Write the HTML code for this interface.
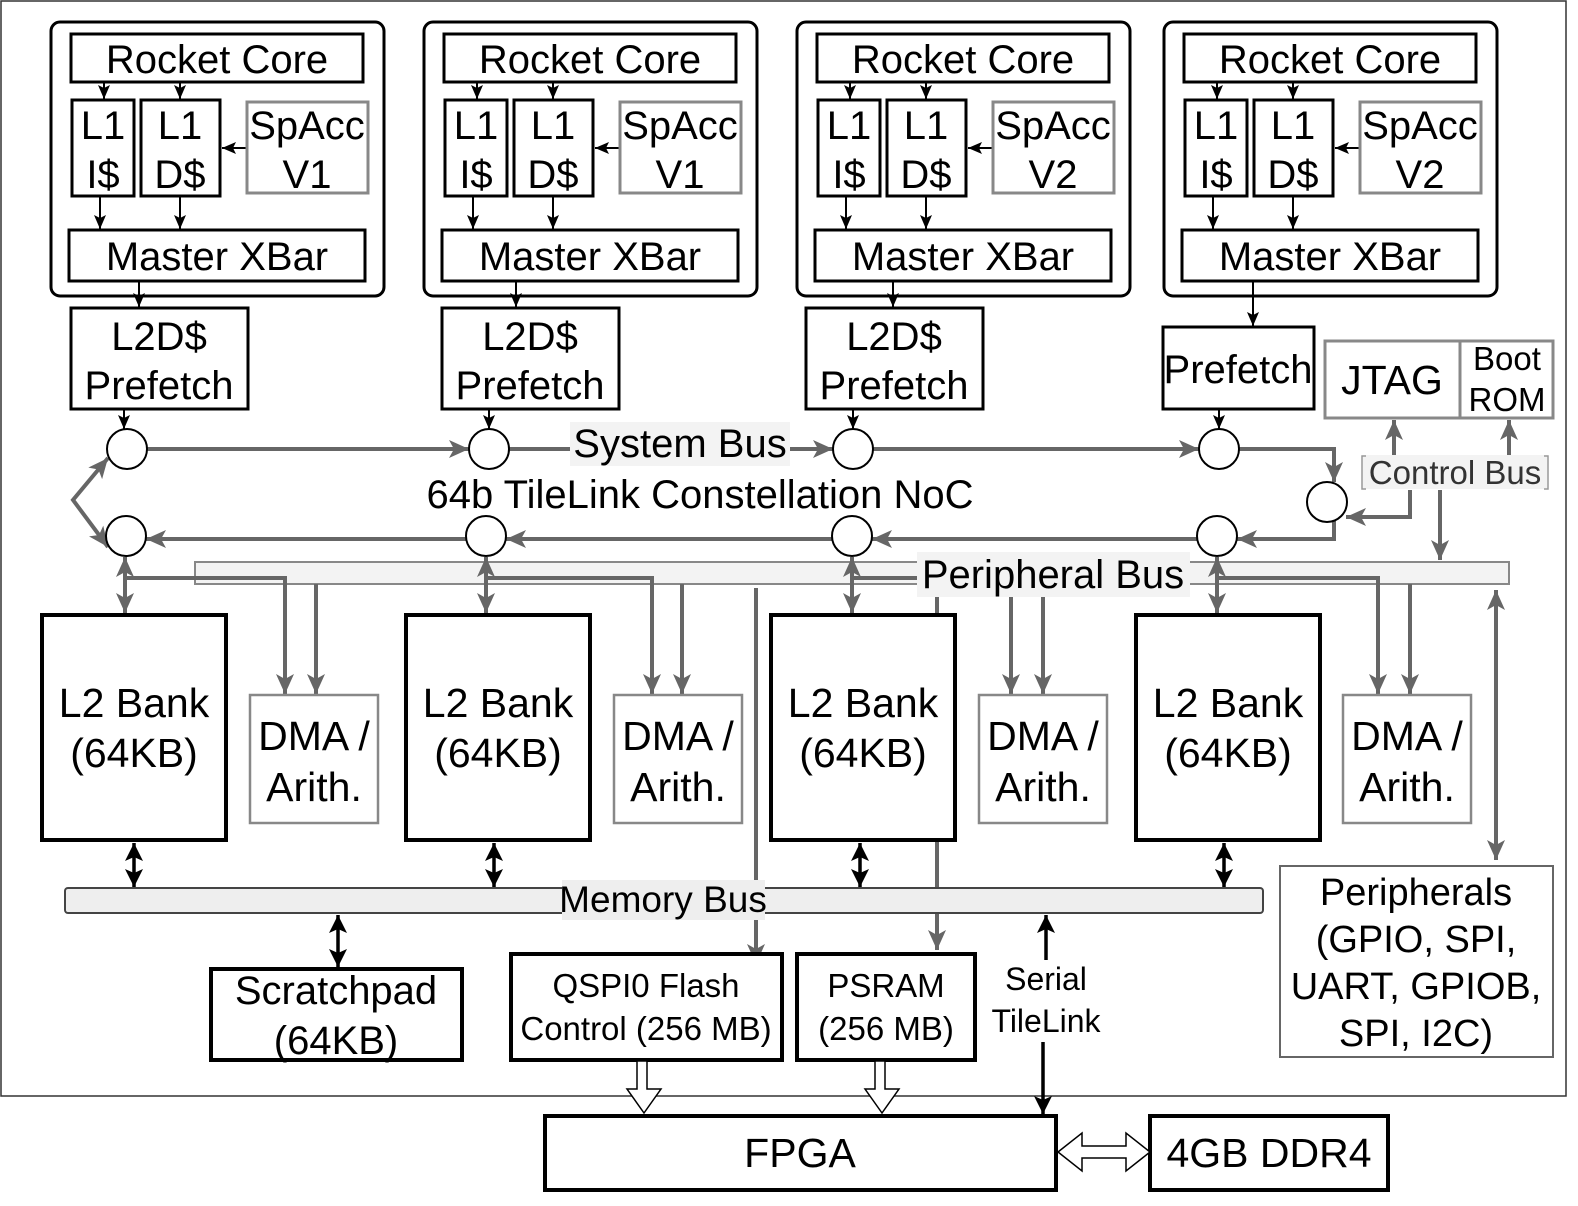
<!DOCTYPE html>
<html><head><meta charset="utf-8"><style>
html,body{margin:0;padding:0;background:#fff}
svg{display:block}
text{font-family:"Liberation Sans",sans-serif;fill:#000;text-anchor:middle}
</style></head><body>
<svg width="1578" height="1206" viewBox="0 0 1578 1206" xmlns="http://www.w3.org/2000/svg">
<defs>
<marker id="ab" viewBox="0 0 14 12" refX="14" refY="6" markerWidth="14" markerHeight="12" orient="auto-start-reverse" markerUnits="userSpaceOnUse"><path d="M0,0 L14,6 L0,12 L3,6 z" fill="#000"/></marker>
<marker id="abl" viewBox="0 0 18 18" refX="18" refY="9" markerWidth="18" markerHeight="18" orient="auto-start-reverse" markerUnits="userSpaceOnUse"><path d="M0,0 L18,9 L0,18 L4,9 z" fill="#000"/></marker>
<marker id="ag" viewBox="0 0 20 18" refX="20" refY="9" markerWidth="20" markerHeight="18" orient="auto-start-reverse" markerUnits="userSpaceOnUse"><path d="M0,0 L20,9 L0,18 L5,9 z" fill="#666"/></marker>
<g id="tile">
<rect x="51" y="22" width="333" height="274" rx="9" fill="none" stroke="#000" stroke-width="3"/>
<rect x="71" y="34" width="292" height="48" fill="#fff" stroke="#000" stroke-width="3"/>
<text x="217" y="73" font-size="40">Rocket Core</text>
<rect x="72" y="100" width="62" height="96" fill="#fff" stroke="#000" stroke-width="3"/>
<text x="103" y="139" font-size="40">L1</text><text x="103" y="188" font-size="40">I$</text>
<rect x="141" y="100" width="79" height="96" fill="#fff" stroke="#000" stroke-width="3"/>
<text x="180" y="139" font-size="40">L1</text><text x="180" y="188" font-size="40">D$</text>
<rect x="69" y="230" width="296" height="51" fill="#fff" stroke="#000" stroke-width="3"/>
<text x="217" y="270" font-size="40">Master XBar</text>
<line x1="104" y1="82" x2="104" y2="99" stroke="#000" stroke-width="2" marker-end="url(#ab)"/>
<line x1="180" y1="82" x2="180" y2="99" stroke="#000" stroke-width="2" marker-end="url(#ab)"/>
<line x1="100" y1="196" x2="100" y2="229" stroke="#000" stroke-width="2" marker-end="url(#ab)"/>
<line x1="180" y1="196" x2="180" y2="229" stroke="#000" stroke-width="2" marker-end="url(#ab)"/>
<line x1="247" y1="148" x2="222" y2="148" stroke="#000" stroke-width="2" marker-end="url(#ab)"/>
<rect x="247" y="102" width="121" height="91" fill="#fff" stroke="#888" stroke-width="3"/>
</g>
</defs>
<rect x="1" y="1" width="1565" height="1095" fill="none" stroke="#333" stroke-width="1.5"/>

<use href="#tile"/>
<use href="#tile" transform="translate(373,0)"/>
<use href="#tile" transform="translate(746,0)"/>
<use href="#tile" transform="translate(1113,0)"/>
<g font-size="40">
<text x="307" y="139">SpAcc</text><text x="307" y="188">V1</text>
<text x="680" y="139">SpAcc</text><text x="680" y="188">V1</text>
<text x="1053" y="139">SpAcc</text><text x="1053" y="188">V2</text>
<text x="1420" y="139">SpAcc</text><text x="1420" y="188">V2</text>
</g>

<g stroke="#000" stroke-width="3" fill="#fff">
<rect x="71" y="308" width="177" height="101"/>
<rect x="442" y="308" width="177" height="101"/>
<rect x="806" y="308" width="177" height="101"/>
<rect x="1163" y="327" width="151" height="82"/>
</g>
<g font-size="40">
<text x="159" y="350">L2D$</text><text x="159" y="399">Prefetch</text>
<text x="530" y="350">L2D$</text><text x="530" y="399">Prefetch</text>
<text x="894" y="350">L2D$</text><text x="894" y="399">Prefetch</text>
<text x="1238" y="383">Prefetch</text>
</g>
<g stroke="#000" stroke-width="2">
<line x1="139" y1="281" x2="139" y2="307" marker-end="url(#ab)"/>
<line x1="516" y1="281" x2="516" y2="307" marker-end="url(#ab)"/>
<line x1="893" y1="281" x2="893" y2="307" marker-end="url(#ab)"/>
<line x1="1253" y1="281" x2="1253" y2="326" marker-end="url(#ab)"/>
<line x1="124" y1="409" x2="124" y2="429" marker-end="url(#ab)"/>
<line x1="489" y1="409" x2="489" y2="429" marker-end="url(#ab)"/>
<line x1="853" y1="409" x2="853" y2="429" marker-end="url(#ab)"/>
<line x1="1219" y1="409" x2="1219" y2="429" marker-end="url(#ab)"/>
</g>

<rect x="1325" y="341" width="135" height="77" fill="#fff" stroke="#888" stroke-width="3"/>
<rect x="1460" y="341" width="93" height="77" fill="#fff" stroke="#888" stroke-width="3"/>
<text x="1392" y="394" font-size="41">JTAG</text>
<text x="1507" y="370" font-size="33">Boot</text><text x="1507" y="411" font-size="33">ROM</text>

<g stroke="#666" stroke-width="4" fill="none">
<line x1="146" y1="449" x2="469" y2="449" marker-end="url(#ag)"/>
<line x1="508" y1="449" x2="833" y2="449" marker-end="url(#ag)"/>
<line x1="872" y1="449" x2="1199" y2="449" marker-end="url(#ag)"/>
<polyline points="1238,449 1334,449 1334,482" marker-end="url(#ag)"/>
<polyline points="1334,521 1334,539 1237,539" marker-end="url(#ag)"/>
<line x1="1198" y1="539" x2="872" y2="539" marker-end="url(#ag)"/>
<line x1="833" y1="539" x2="506" y2="539" marker-end="url(#ag)"/>
<line x1="467" y1="539" x2="146" y2="539" marker-end="url(#ag)"/>
<polyline points="108,458 73,500 108,547" marker-start="url(#ag)" marker-end="url(#ag)"/>
<polyline points="1410,490 1410,517 1346,517" marker-end="url(#ag)"/>
<line x1="1394" y1="460" x2="1394" y2="420" marker-end="url(#ag)"/>
<line x1="1509" y1="460" x2="1509" y2="420" marker-end="url(#ag)"/>
<line x1="1440" y1="490" x2="1440" y2="560" marker-end="url(#ag)"/>
</g>
<g fill="#fff" stroke="#000" stroke-width="2">
<circle cx="127" cy="449" r="20"/><circle cx="489" cy="449" r="20"/><circle cx="853" cy="449" r="20"/><circle cx="1219" cy="449" r="20"/>
<circle cx="126" cy="536" r="20"/><circle cx="486" cy="536" r="20"/><circle cx="852" cy="536" r="20"/><circle cx="1217" cy="536" r="20"/>
<circle cx="1327" cy="502" r="20"/>
</g>
<rect x="570" y="422" width="220" height="44" fill="#f3f3f3"/>
<text x="680" y="457" font-size="40">System Bus</text>
<text x="700" y="508" font-size="40">64b TileLink Constellation NoC</text>
<rect x="1362" y="455" width="186" height="34" fill="#f3f3f3"/>
<text x="1455" y="484" font-size="33" style="fill:#333">Control Bus</text>
<path d="M1366,456 h-4 v33 h4 M1544,456 h4 v33 h-4" fill="none" stroke="#999" stroke-width="1.5"/>

<rect x="195" y="562" width="1314" height="22" fill="#f3f3f3" stroke="#888" stroke-width="2"/>
<g stroke="#666" stroke-width="4" fill="none">
<line x1="125" y1="557" x2="125" y2="613" marker-start="url(#ag)" marker-end="url(#ag)"/>
<line x1="486" y1="557" x2="486" y2="613" marker-start="url(#ag)" marker-end="url(#ag)"/>
<line x1="852" y1="557" x2="852" y2="613" marker-start="url(#ag)" marker-end="url(#ag)"/>
<line x1="1217" y1="557" x2="1217" y2="613" marker-start="url(#ag)" marker-end="url(#ag)"/>
<polyline points="125,578 285,578 285,694" marker-end="url(#ag)"/>
<line x1="316" y1="584" x2="316" y2="694" marker-end="url(#ag)"/>
<polyline points="486,578 652,578 652,694" marker-end="url(#ag)"/>
<line x1="682" y1="584" x2="682" y2="694" marker-end="url(#ag)"/>
<polyline points="852,578 920,578"/>
<line x1="1011" y1="597" x2="1011" y2="694" marker-end="url(#ag)"/>
<line x1="1043" y1="597" x2="1043" y2="694" marker-end="url(#ag)"/>
<polyline points="1217,578 1378,578 1378,694" marker-end="url(#ag)"/>
<line x1="1410" y1="584" x2="1410" y2="694" marker-end="url(#ag)"/>
<line x1="756" y1="588" x2="756" y2="964" marker-end="url(#ag)"/>
<line x1="937" y1="597" x2="937" y2="615"/>
<line x1="937" y1="840" x2="937" y2="950" marker-end="url(#ag)"/>
<line x1="1496" y1="590" x2="1496" y2="860" marker-start="url(#ag)" marker-end="url(#ag)"/>
</g>
<rect x="917" y="552" width="273" height="45" fill="#f3f3f3"/>
<text x="1053" y="588" font-size="40">Peripheral Bus</text>

<g stroke="#000" stroke-width="4" fill="#fff">
<rect x="42" y="615" width="184" height="225"/>
<rect x="406" y="615" width="184" height="225"/>
<rect x="771" y="615" width="184" height="225"/>
<rect x="1136" y="615" width="184" height="225"/>
</g>
<g stroke="#888" stroke-width="2.5" fill="#fff">
<rect x="250" y="695" width="128" height="128"/>
<rect x="614" y="695" width="128" height="128"/>
<rect x="979" y="695" width="128" height="128"/>
<rect x="1343" y="695" width="128" height="128"/>
</g>
<g font-size="41">
<text x="134" y="717">L2 Bank</text><text x="134" y="767">(64KB)</text>
<text x="498" y="717">L2 Bank</text><text x="498" y="767">(64KB)</text>
<text x="863" y="717">L2 Bank</text><text x="863" y="767">(64KB)</text>
<text x="1228" y="717">L2 Bank</text><text x="1228" y="767">(64KB)</text>
<text x="314" y="750">DMA /</text><text x="314" y="801">Arith.</text>
<text x="678" y="750">DMA /</text><text x="678" y="801">Arith.</text>
<text x="1043" y="750">DMA /</text><text x="1043" y="801">Arith.</text>
<text x="1407" y="750">DMA /</text><text x="1407" y="801">Arith.</text>
</g>

<rect x="65" y="888" width="1198" height="25" rx="3" fill="#eee" stroke="#444" stroke-width="2"/>
<rect x="562" y="880" width="203" height="40" fill="#eee"/>
<text x="663" y="912" font-size="37">Memory Bus</text>
<g stroke="#000" stroke-width="3.5">
<line x1="134" y1="843" x2="134" y2="887" marker-start="url(#abl)" marker-end="url(#abl)"/>
<line x1="494" y1="843" x2="494" y2="887" marker-start="url(#abl)" marker-end="url(#abl)"/>
<line x1="860" y1="843" x2="860" y2="887" marker-start="url(#abl)" marker-end="url(#abl)"/>
<line x1="1224" y1="843" x2="1224" y2="887" marker-start="url(#abl)" marker-end="url(#abl)"/>
<line x1="338" y1="915" x2="338" y2="967" marker-start="url(#abl)" marker-end="url(#abl)"/>
<line x1="1046" y1="960" x2="1046" y2="915" marker-end="url(#abl)"/>
<line x1="1043" y1="1042" x2="1043" y2="1114" marker-end="url(#abl)"/>
</g>
<g stroke="#000" stroke-width="4" fill="#fff">
<rect x="211" y="969" width="251" height="91"/>
<rect x="511" y="954" width="271" height="106"/>
<rect x="797" y="954" width="178" height="106"/>
<rect x="545" y="1116" width="511" height="74"/>
<rect x="1150" y="1116" width="238" height="74"/>
</g>
<text x="336" y="1004" font-size="40">Scratchpad</text><text x="336" y="1054" font-size="40">(64KB)</text>
<text x="646" y="997" font-size="33">QSPI0 Flash</text><text x="646" y="1040" font-size="33">Control (256 MB)</text>
<text x="886" y="997" font-size="33">PSRAM</text><text x="886" y="1040" font-size="33">(256 MB)</text>
<text x="1046" y="990" font-size="32">Serial</text><text x="1046" y="1032" font-size="32">TileLink</text>
<text x="800" y="1167" font-size="41">FPGA</text>
<text x="1269" y="1167" font-size="41">4GB DDR4</text>
<g fill="#fff" stroke="#000" stroke-width="1.5">
<path d="M637,1061 h10 v28 h14 l-17,24 l-17,-24 h10 z"/>
<path d="M875,1061 h10 v28 h14 l-17,24 l-17,-24 h10 z"/>
<path d="M1058,1152 l24,-19 v13 h44 v-13 l24,19 l-24,19 v-13 h-44 v13 z"/>
</g>
<rect x="1280" y="866" width="273" height="191" fill="#fff" stroke="#666" stroke-width="2"/>
<g font-size="38">
<text x="1416" y="905">Peripherals</text>
<text x="1416" y="952">(GPIO, SPI,</text>
<text x="1416" y="999">UART, GPIOB,</text>
<text x="1416" y="1046">SPI, I2C)</text>
</g>
</svg>
</body></html>
